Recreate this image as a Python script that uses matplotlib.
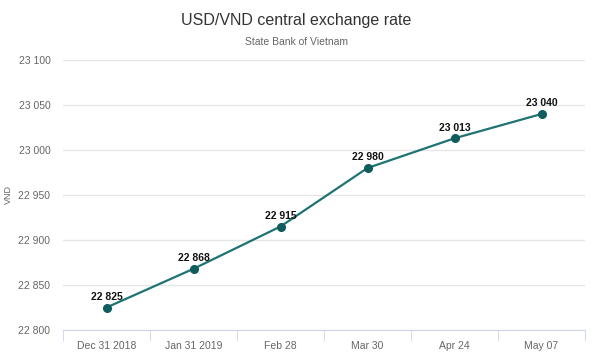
import matplotlib.pyplot as plt

plt.rcParams["font.family"] = ["Liberation Sans", "DejaVu Sans"]

dates = ["Dec 31 2018", "Jan 31 2019", "Feb 28", "Mar 30", "Apr 24", "May 07"]
rates = [22825, 22868, 22915, 22980, 23013, 23040]
y_ticks = [22800, 22850, 22900, 22950, 23000, 23050, 23100]

fig = plt.figure(figsize=(5.93, 3.6), dpi=100)
ax = fig.add_axes([63 / 593, 30 / 360, 522 / 593, 270 / 360])

x = list(range(len(dates)))
ax.plot(x, rates, color="#1f7373", lw=1.6, marker="o", ms=5.5,
        markerfacecolor="#0e5c5c", markeredgecolor="#0e5c5c", zorder=3)
for xi, v in zip(x, rates):
    lab = f"{v:,}".replace(",", " ")
    ax.annotate(lab, (xi, v), xytext=(0, 4), textcoords="offset points",
                ha="center", va="bottom", fontsize=7.5, fontweight="bold", color="#111111")

ax.set_xlim(-0.5, len(dates) - 0.5)
ax.set_ylim(22800, 23100)
ax.set_yticks(y_ticks)
ax.set_yticklabels([f"{t:,}".replace(",", " ") for t in y_ticks])
ax.set_xticks(x)
ax.set_xticklabels(dates)
ax.set_xticks([i - 0.5 for i in range(len(dates) + 1)], minor=True)

ax.grid(axis="y", color="#e6e6e6", lw=1)
ax.set_axisbelow(True)
for s in ["top", "right", "left"]:
    ax.spines[s].set_visible(False)
ax.spines["bottom"].set_color("#ccd6eb")
ax.tick_params(axis="y", length=0, labelsize=7.5, colors="#666666", pad=9)
ax.tick_params(axis="x", which="major", length=0, labelsize=7.5, colors="#666666", pad=8)
ax.tick_params(axis="x", which="minor", length=8, color="#ccd6eb")

fig.text(8 / 593, 1 - 195 / 360, "VND", rotation=90, fontsize=6.5, color="#666666",
         ha="center", va="center")
fig.text(0.5, 1 - 20 / 360, "USD/VND central exchange rate", fontsize=11.5,
         color="#333333", ha="center", va="center")
fig.text(0.5, 1 - 42 / 360, "State Bank of Vietnam", fontsize=7.5,
         color="#666666", ha="center", va="center")

fig.savefig("out.png", dpi=100)
